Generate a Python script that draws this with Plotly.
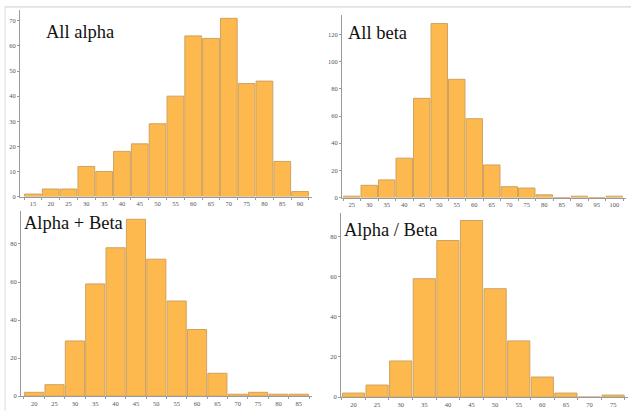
import plotly.graph_objects as go

W, H = 631, 414

# ---- data ----
alpha_bins = ["15", "20", "25", "30", "35", "40", "45", "50", "55", "60", "65", "70", "75", "80", "85", "90"]
alpha_counts = [1, 3, 3, 12, 10, 18, 21, 29, 40, 64, 63, 71, 45, 46, 14, 2]

beta_bins = ["25", "30", "35", "40", "45", "50", "55", "60", "65", "70", "75", "80", "85", "90", "95", "100"]
beta_counts = [1, 9, 13, 29, 73, 128, 87, 58, 24, 8, 7, 2, 0, 1, 0, 1]

sum_bins = ["20", "25", "30", "35", "40", "45", "50", "55", "60", "65", "70", "75", "80", "85"]
sum_counts = [2, 6, 29, 59, 78, 93, 72, 50, 35, 12, 1, 2, 1, 1]

ratio_bins = ["20", "25", "30", "35", "40", "45", "50", "55", "60", "65", "70", "75"]
ratio_counts = [2, 6, 18, 59, 78, 88, 54, 28, 10, 2, 0, 1]

titles = ["All alpha", "All beta", "Alpha + Beta", "Alpha / Beta"]
y_ticks = [list(range(0, 71, 10)), list(range(0, 121, 20)), list(range(0, 81, 20)), list(range(0, 81, 20))]

# ---- layout geometry (pixels) ----
panels = [
    dict(x0=20, x1=312, yb=198, yt=10, xr=[-0.725, 15.67], yr=[0, 74.35], tx=44, ty=32),
    dict(x0=342, x1=626, yb=199, yt=15, xr=[-0.557, 15.67], yr=[0, 134.4], tx=346, ty=33),
    dict(x0=21, x1=312, yb=399, yt=213, xr=[-0.647, 13.647], yr=[0, 97.1], tx=21.5, ty=225),
    dict(x0=341, x1=628, yb=400, yt=215, xr=[-0.53, 11.63], yr=[0, 91.5], tx=342, ty=232),
]

series = [(alpha_bins, alpha_counts), (beta_bins, beta_counts),
          (sum_bins, sum_counts), (ratio_bins, ratio_counts)]

bar_color = "#FDB94E"
edge_color = "#CFA261"
axis_color = "#9a9a9a"
tick_font = dict(family="Liberation Serif, Times New Roman, serif", size=6.5, color="#555555")

fig = go.Figure()
layout = dict(
    width=W, height=H,
    margin=dict(l=0, r=0, t=0, b=0),
    paper_bgcolor="white", plot_bgcolor="white",
    showlegend=False,
    bargap=0.06,
)

annotations = []
for i, (p, (bins, counts)) in enumerate(zip(panels, series)):
    n = i + 1
    xa = "x" if n == 1 else f"x{n}"
    ya = "y" if n == 1 else f"y{n}"
    fig.add_trace(go.Bar(
        x=bins, y=counts, xaxis=xa, yaxis=ya,
        marker=dict(color=bar_color, line=dict(color=edge_color, width=1)),
        hoverinfo="x+y",
    ))
    xkey = "xaxis" if n == 1 else f"xaxis{n}"
    ykey = "yaxis" if n == 1 else f"yaxis{n}"
    layout[xkey] = dict(
        domain=[p["x0"] / W, p["x1"] / W],
        anchor=ya, type="category", range=p["xr"],
        showgrid=False, zeroline=False,
        showline=True, linecolor=axis_color, linewidth=1,
        ticks="outside", tickson="boundaries", ticklen=2, tickcolor=axis_color,
        tickfont=tick_font, ticklabelstandoff=1, tickangle=0,
    )
    layout[ykey] = dict(
        domain=[(H - p["yb"]) / H, (H - p["yt"]) / H],
        anchor=xa, range=p["yr"],
        tickmode="array", tickvals=y_ticks[i],
        showgrid=False, zeroline=False,
        showline=True, linecolor=axis_color, linewidth=1,
        ticks="outside", ticklen=2, tickcolor=axis_color,
        tickfont=tick_font,
    )
    annotations.append(dict(
        text=titles[i], xref="paper", yref="paper",
        x=p["tx"] / W, y=(H - p["ty"]) / H,
        xanchor="left", yanchor="middle", showarrow=False,
        font=dict(family="Liberation Serif, Times New Roman, serif", size=18.5, color="#111111"),
    ))

layout["annotations"] = annotations
layout["shapes"] = [
    dict(type="line", xref="paper", yref="paper", x0=5 / W, x1=1, y0=(H - 7) / H, y1=(H - 7) / H,
         line=dict(color="#cccccc", width=1)),
    dict(type="line", xref="paper", yref="paper", x0=5 / W, x1=5 / W, y0=0, y1=(H - 7) / H,
         line=dict(color="#dddddd", width=1)),
]
fig.update_layout(**layout)
fig.write_html("out.html")
